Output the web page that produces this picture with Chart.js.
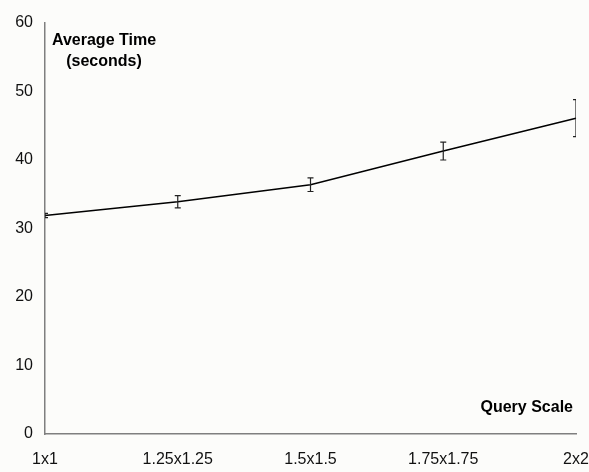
<!DOCTYPE html>
<html>
<head>
<meta charset="utf-8">
<script src="https://cdn.jsdelivr.net/npm/chart.js@4/dist/chart.umd.min.js"></script>
<style>
  html, body { margin: 0; padding: 0; background: #fcfcfa; }
  #wrap { width: 589px; height: 472px; position: relative; }
</style>
</head>
<body>
<div id="wrap"><canvas id="c" width="589" height="472"></canvas></div>
<script>
const categories = ["1x1", "1.25x1.25", "1.5x1.5", "1.75x1.75", "2x2"];
const avgTime = [31.9, 33.9, 36.4, 41.3, 46.1];
const errAmount = [0.3, 0.9, 1.0, 1.3, 2.7];
const yTicks = [0, 10, 20, 30, 40, 50, 60];
const yTitleLines = ["Average Time", "(seconds)"];
const xTitle = "Query Scale";

const FONT = "'Liberation Sans', Arial, sans-serif";

const errorBarPlugin = {
  id: 'errorBars',
  afterDatasetsDraw(chart) {
    const ctx = chart.ctx;
    const xs = chart.scales.x, ys = chart.scales.y;
    const area = chart.chartArea;
    ctx.save();
    ctx.beginPath();
    ctx.rect(area.left, 0, area.right - area.left, chart.height);
    ctx.clip();
    ctx.strokeStyle = '#222';
    ctx.lineWidth = 1.2;
    avgTime.forEach((v, i) => {
      const x = xs.getPixelForValue(i);
      const yTop = ys.getPixelForValue(v + errAmount[i]);
      const yBot = ys.getPixelForValue(v - errAmount[i]);
      ctx.beginPath();
      ctx.moveTo(x, yTop); ctx.lineTo(x, yBot);
      ctx.moveTo(x - 3, yTop); ctx.lineTo(x + 3, yTop);
      ctx.moveTo(x - 3, yBot); ctx.lineTo(x + 3, yBot);
      ctx.stroke();
    });
    ctx.restore();
  }
};

const titlePlugin = {
  id: 'inlineTitles',
  afterDraw(chart) {
    const ctx = chart.ctx;
    const area = chart.chartArea;
    ctx.save();
    ctx.fillStyle = '#000';
    ctx.font = 'bold 16px ' + FONT;
    ctx.textAlign = 'center';
    ctx.textBaseline = 'middle';
    const cx = area.left + 59;
    yTitleLines.forEach((t, i) => ctx.fillText(t, cx, area.top + 18 + i * 21));
    ctx.textAlign = 'right';
    ctx.fillText(xTitle, area.right - 3, area.bottom - 26);
    ctx.restore();
  }
};

new Chart(document.getElementById('c'), {
  type: 'line',
  data: {
    labels: categories,
    datasets: [{
      data: avgTime,
      borderColor: '#000',
      borderWidth: 1.5,
      pointRadius: 0,
      tension: 0,
      fill: false
    }]
  },
  options: {
    responsive: false,
    animation: false,
    devicePixelRatio: 1,
    layout: { autoPadding: false, padding: { top: 23, right: 13, bottom: 0, left: 0 } },
    plugins: { legend: { display: false }, tooltip: { enabled: false } },
    scales: {
      x: {
        offset: false,
        grid: { display: false, drawTicks: false },
        border: { display: true, color: '#7f7f7f', width: 1.5 },
        ticks: { color: '#111', font: { family: FONT, size: 16 }, padding: 16, maxRotation: 0, autoSkip: false },
        afterFit(s) { s.height = 38; s.paddingRight = 0; s.paddingLeft = 0; }
      },
      y: {
        min: 0, max: 60,
        afterBuildTicks(s) { s.ticks = yTicks.map(v => ({ value: v })); },
        grid: { display: false, drawTicks: false },
        border: { display: true, color: '#7f7f7f', width: 1.5 },
        ticks: { color: '#111', font: { family: FONT, size: 16 }, padding: 12 },
        afterFit(s) { s.width = 45; s.paddingTop = 0; s.paddingBottom = 0; }
      }
    }
  },
  plugins: [errorBarPlugin, titlePlugin]
});
</script>
</body>
</html>
